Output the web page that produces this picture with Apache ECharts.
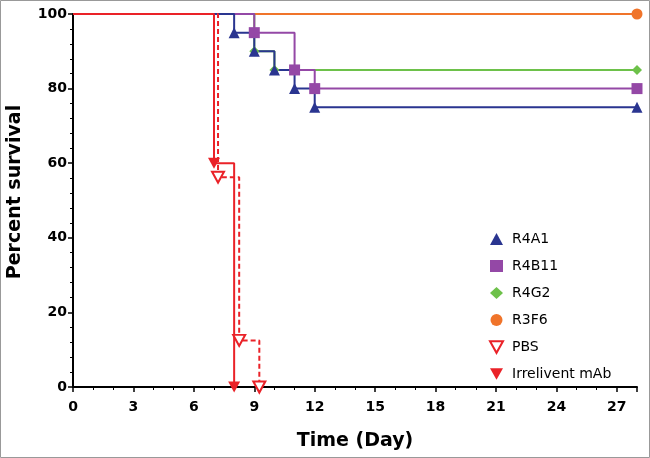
<!DOCTYPE html>
<html><head><meta charset="utf-8">
<script src="https://cdn.jsdelivr.net/npm/echarts@6/dist/echarts.min.js"></script>
<style>html,body{margin:0;padding:0;background:#fff}#c{width:650px;height:458px}</style>
</head><body><div id="c"></div>
<script>
const seriesNames = ['R4A1','R4B11','R4G2','R3F6','PBS','Irrelivent mAb'];
const r4a1Days = [0, 8, 9, 10, 11, 12, 28];
const r4a1Vals = [100, 95, 90, 85, 80, 75, 75];
const r4b11Days = [0, 9, 11, 12, 28];
const r4b11Vals = [100, 95, 85, 80, 80];
const r4g2Days = [0, 9, 10, 28];
const r4g2Vals = [100, 90, 85, 85];
const r3f6Days = [0, 28];
const r3f6Vals = [100, 100];
const pbsDays = [0, 7.2, 8.25, 9.25];
const pbsVals = [100, 56.25, 12.5, 0];
const irrDays = [0, 7, 8];
const irrVals = [100, 60, 0];
const xTicks = [0,3,6,9,12,15,18,21,24,27];
const yTicks = [0,20,40,60,80,100];
const xTitle = 'Time (Day)';
const yTitle = 'Percent survival';

const downTri = 'path://M0,0L10,0L5,9Z';
const colors = {R4A1:'#2a3590', R4B11:'#9448a6', R4G2:'#6dc14a', R3F6:'#f0742a', PBS:'#ea2228', IRR:'#ea2228'};

function pts(days, vals){
  return days.map((d,i)=> i===0 ? {value:[d,vals[i]], symbol:'none'} : {value:[d,vals[i]]});
}
function mk(name, days, vals, color, symbol, size, extra){
  return Object.assign({
    name, type:'line', step:'end', data: pts(days, vals),
    symbol, symbolSize:size, showAllSymbol:true,
    lineStyle:{color, width:2},
    itemStyle:{color, borderColor:color, borderWidth:0, opacity:1},
    emphasis:{disabled:true}, animation:false
  }, extra||{});
}
const series = [
  mk('R3F6', r3f6Days, r3f6Vals, colors.R3F6, 'circle', 11),
  mk('R4G2', r4g2Days, r4g2Vals, colors.R4G2, 'diamond', 10),
  mk('R4B11', r4b11Days, r4b11Vals, colors.R4B11, 'rect', 11),
  mk('R4A1', r4a1Days, r4a1Vals, colors.R4A1, 'triangle', 11),
  mk('PBS', pbsDays, pbsVals, colors.PBS, downTri, [12,11], {
    lineStyle:{color:colors.PBS, width:2, type:[5,3]},
    itemStyle:{color:'#fff', borderColor:colors.PBS, borderWidth:2}
  }),
  mk('Irrelivent mAb', irrDays, irrVals, colors.IRR, downTri, [12,11])
];

const chart = echarts.init(document.getElementById('c'), null, {renderer:'canvas'});
chart.setOption({
  backgroundColor:'#fff',
  animation:false,
  grid:{left:73, right:13, top:14, bottom:71, containLabel:false},
  xAxis:{
    type:'value', min:0, max:28, interval:3,
    name:xTitle, nameLocation:'middle', nameGap:45,
    nameTextStyle:{fontFamily:'DejaVu Sans', fontWeight:'bold', fontSize:19, color:'#000'},
    axisLine:{onZero:false, lineStyle:{color:'#000', width:2}},
    axisTick:{show:true, length:5, lineStyle:{color:'#000', width:1.5}},
    minorTick:{show:true, splitNumber:3, length:3, lineStyle:{color:'#000', width:1}},
    splitLine:{show:false},
    axisLabel:{fontFamily:'DejaVu Sans', fontWeight:'bold', fontSize:14, color:'#000', margin:13,
      formatter:v=> xTicks.includes(v) ? String(v) : ''}
  },
  yAxis:{
    type:'value', min:0, max:100, interval:20,
    axisLine:{show:true, onZero:false, lineStyle:{color:'#000', width:2}},
    axisTick:{show:true, length:5, lineStyle:{color:'#000', width:1.5}},
    minorTick:{show:true, splitNumber:5, length:3, lineStyle:{color:'#000', width:1}},
    splitLine:{show:false},
    axisLabel:{fontFamily:'DejaVu Sans', fontWeight:'bold', fontSize:14, color:'#000', margin:6,
      formatter:v=> yTicks.includes(v) ? String(v) : ''}
  },
  legend:{
    orient:'vertical', left:484, top:227, itemGap:13, itemWidth:13, itemHeight:12,
    textStyle:{fontFamily:'DejaVu Sans', fontSize:14, color:'#000', padding:[0,0,0,4]},
    data:[
      {name:'R4A1', icon:'triangle'},
      {name:'R4B11', icon:'rect'},
      {name:'R4G2', icon:'diamond'},
      {name:'R3F6', icon:'circle'},
      {name:'PBS', icon:downTri},
      {name:'Irrelivent mAb', icon:downTri}
    ]
  },
  graphic:[
    {type:'rect', shape:{x:0.5,y:0.5,width:649,height:457}, style:{fill:null, stroke:'#999', lineWidth:1}, silent:true},
    {type:'text', x:15, y:192, rotation:Math.PI/2, silent:true,
     style:{text:yTitle, fontFamily:'DejaVu Sans', fontWeight:'bold', fontSize:19, fill:'#000', align:'center', verticalAlign:'middle'}}
  ],
  series
});
</script></body></html>
